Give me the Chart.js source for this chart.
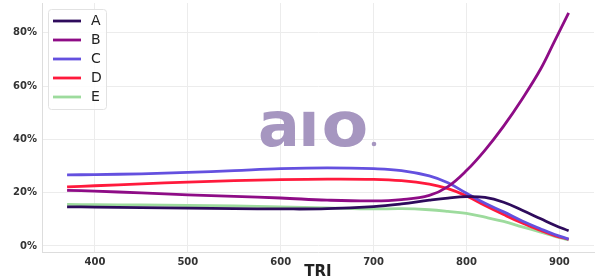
<!DOCTYPE html>
<html>
<head>
<meta charset="utf-8">
<script src="https://cdn.jsdelivr.net/npm/chart.js@4/dist/chart.umd.min.js"></script>
<style>
  body { margin: 0; background: #fff; }
  #wrap { width: 600px; height: 280px; }
</style>
</head>
<body>
<div id="wrap"><canvas id="myChart" width="600" height="280"></canvas></div>
<script>
// TRI values along the x axis
var tri = [370, 400, 450, 500, 550, 600, 650, 700, 730, 760, 780, 800, 820, 840, 860, 880, 895, 910];
var xTicks = [400, 500, 600, 700, 800, 900];
var yTicks = [0, 20, 40, 60, 80];

var seriesA = [14.7, 14.6, 14.4, 14.2, 14.0, 13.9, 14.0, 14.8, 15.8, 17.2, 18.0, 18.5, 18.2, 16.4, 13.4, 10.2, 7.8, 5.7];
var seriesB = [20.9, 20.6, 19.9, 19.2, 18.6, 18.0, 17.2, 16.9, 17.4, 19.0, 22.3, 28.3, 36.0, 45.0, 55.2, 66.5, 77.0, 87.5];
var seriesC = [26.7, 26.8, 27.1, 27.6, 28.3, 29.0, 29.3, 29.0, 28.3, 26.3, 23.7, 19.8, 16.0, 12.8, 9.4, 6.4, 4.3, 2.6];
var seriesD = [22.2, 22.6, 23.3, 24.0, 24.5, 24.9, 25.1, 25.0, 24.5, 23.2, 21.5, 18.8, 15.2, 11.8, 8.6, 5.8, 3.9, 2.5];
var seriesE = [15.6, 15.5, 15.4, 15.2, 15.0, 14.7, 14.3, 13.9, 14.0, 13.6, 13.0, 12.2, 10.8, 9.2, 7.2, 5.2, 3.6, 2.3];

var labels = ["A", "B", "C", "D", "E"];
var colors = ["#2e0b5c", "#8e0c86", "#6450df", "#ff1a3c", "#9ddb9d"];
var allSeries = [seriesA, seriesB, seriesC, seriesD, seriesE];

var datasets = [];
for (let i = 0; i < labels.length; i++) {
  datasets.push({
    label: labels[i],
    data: tri.map((x, j) => ({ x: x, y: allSeries[i][j] })),
    borderColor: colors[i],
    borderWidth: 2.8,
    pointRadius: 0,
    fill: false,
    tension: 0.4,
  });
}

// watermark behind the lines
var watermark = {
  id: "watermark",
  beforeDatasetsDraw: (chart) => {
    const ctx = chart.ctx;
    ctx.save();
    ctx.fillStyle = "rgb(166,150,192)";
    ctx.font = "bold 62px 'DejaVu Sans'";
    ctx.textAlign = "center";
    ctx.textBaseline = "alphabetic";
    [["a", 279, 1.0], ["\u0131", 309, 1.0], ["o", 345, 1.1]].forEach((g) => {
      ctx.save();
      ctx.translate(g[1], 146);
      ctx.scale(g[2], 1);
      ctx.fillText(g[0], 0, 0);
      ctx.restore();
    });
    ctx.beginPath();
    ctx.arc(374, 144, 2.3, 0, Math.PI * 2);
    ctx.fill();
    ctx.restore();
  },
};

// legend drawn inside the plot area
var innerLegend = {
  id: "innerLegend",
  afterDraw: (chart) => {
    const ctx = chart.ctx;
    const a = chart.chartArea;
    const x0 = a.left + 6, y0 = a.top + 6;
    const w = 58, h = 100;
    ctx.save();
    ctx.fillStyle = "rgba(255,255,255,0.85)";
    ctx.strokeStyle = "#e2e2e2";
    ctx.lineWidth = 1;
    ctx.beginPath();
    ctx.roundRect(x0 + 0.5, y0 + 0.5, w, h, 3);
    ctx.fill();
    ctx.stroke();
    ctx.font = "14px 'DejaVu Sans'";
    ctx.textBaseline = "middle";
    chart.data.datasets.forEach((ds, i) => {
      const y = y0 + 12 + i * 19;
      ctx.strokeStyle = ds.borderColor;
      ctx.lineWidth = 2.8;
      ctx.beginPath();
      ctx.moveTo(x0 + 5, y);
      ctx.lineTo(x0 + 33, y);
      ctx.stroke();
      ctx.fillStyle = "#222";
      ctx.fillText(ds.label, x0 + 43, y);
    });
    ctx.restore();
  },
};

const ctx = document.getElementById("myChart").getContext("2d");
const myChart = new Chart(ctx, {
  type: "line",
  data: { datasets: datasets },
  options: {
    responsive: false,
    animation: false,
    layout: { padding: { top: 3, right: 6, left: 0, bottom: 0 } },
    plugins: { legend: { display: false }, tooltip: { enabled: false } },
    scales: {
      x: {
        type: "linear",
        min: 343,
        max: 937.3,
        border: { color: "#dddddd" },
        grid: { color: "#ececec", drawTicks: false },
        afterBuildTicks: (axis) => {
          axis.ticks = xTicks.map((v) => ({ value: v }));
        },
        afterFit: (axis) => {
          axis.height = 28;
          axis.paddingLeft = 0;
          axis.paddingRight = 0;
        },
        ticks: {
          padding: 4,
          color: "#333",
          font: { family: "'DejaVu Sans'", size: 10, weight: "bold" },
        },
        title: {
          display: true,
          text: "TRI",
          color: "#222",
          padding: { top: 0, bottom: -1 },
          font: { family: "'DejaVu Sans'", size: 15, weight: "bold" },
        },
      },
      y: {
        min: -2.26,
        max: 91.2,
        border: { color: "#dddddd" },
        grid: { color: "#ececec", drawTicks: false },
        afterBuildTicks: (axis) => {
          axis.ticks = yTicks.map((v) => ({ value: v }));
        },
        afterFit: (axis) => {
          axis.width = 42;
          axis.paddingTop = 0;
          axis.paddingBottom = 0;
        },
        ticks: {
          padding: 5,
          color: "#333",
          font: { family: "'DejaVu Sans'", size: 10, weight: "bold" },
          callback: (v) => v + "%",
        },
      },
    },
  },
  plugins: [watermark, innerLegend],
});
</script>
</body>
</html>
